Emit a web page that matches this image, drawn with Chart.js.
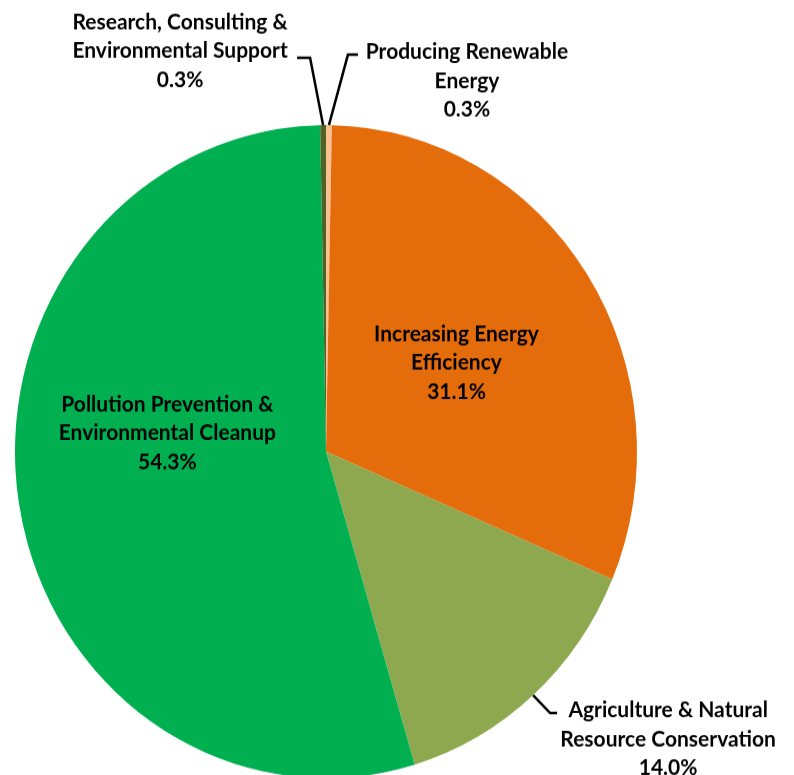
<!DOCTYPE html>
<html>
<head>
<meta charset="utf-8">
<script src="https://cdn.jsdelivr.net/npm/chart.js@4"></script>
<style>
  html { overflow: hidden; }
  body { margin: 0; padding: 0; background: #fff; height: 775px; }
  #wrap { width: 794px; transform: scaleY(1.05); transform-origin: 0 0; }
</style>
</head>
<body>
<div id="wrap"><canvas id="chartPie" width="794" height="745"></canvas></div>
<script>
/* 녹색 일자리 분야별 비중 */
var categories = ['Producing Renewable Energy', 'Increasing Energy Efficiency', 'Agriculture & Natural Resource Conservation', 'Pollution Prevention & Environmental Cleanup', 'Research, Consulting & Environmental Support'];
var labelLines = [['Producing Renewable', 'Energy'], ['Increasing Energy', 'Efficiency'], ['Agriculture & Natural', 'Resource Conservation'], ['Pollution Prevention &', 'Environmental Cleanup'], ['Research, Consulting &', 'Environmental Support']];
var shares = [0.3, 31.1, 14.0, 54.3, 0.3];

var sliceColors = ['#FAC090', '#E46C0A', '#8EA84F', '#00AF50', '#4F6228'];

// 라벨 위치: inside = 조각 중앙에서의 이동, leader = 가장자리에서 꺾이는 선, text = 선 끝에서 글자 위치
var placement = [
    { leader: [[19, -67], [10, 0]], text: [109, -2.9] },
    { inside: [0, 0] },
    { leader: [[17, 17], [7, 0]], text: [111, -2.8] },
    { inside: [-5, -41.5] },
    { leader: [[-13, -64], [-13, 0]], text: [-117, -34.2] }
];

var FONT = 'bold 21px Lato';
var LINE_H = 27.6;

function drawBlock(ctx, lines, cx, y) {
    lines.forEach(function (t, k) {
        ctx.fillText(t, cx, y + k * LINE_H);
    });
}

var pieLabels = {
    id: 'pieLabels',
    afterDatasetsDraw: function (chart) {
        var ctx = chart.ctx;
        var meta = chart.getDatasetMeta(0);
        ctx.save();
        ctx.font = FONT;
        ctx.fillStyle = '#000';
        ctx.textAlign = 'center';
        ctx.textBaseline = 'middle';
        ctx.strokeStyle = '#000';
        ctx.lineWidth = 2.5;
        ctx.lineJoin = 'miter';
        meta.data.forEach(function (arc, i) {
            var p = arc.getProps(['x', 'y', 'startAngle', 'endAngle', 'outerRadius'], true);
            var mid = (p.startAngle + p.endAngle) / 2;
            var lines = labelLines[i].concat([shares[i].toFixed(1) + '%']);
            var cfg = placement[i];
            if (cfg.inside) {
                var cx = p.x + Math.cos(mid) * p.outerRadius * 0.5 + cfg.inside[0];
                var cy = p.y + Math.sin(mid) * p.outerRadius * 0.5 + cfg.inside[1];
                drawBlock(ctx, lines, cx, cy - LINE_H * (lines.length - 1) / 2);
            } else {
                var x = p.x + Math.cos(mid) * p.outerRadius;
                var y = p.y + Math.sin(mid) * p.outerRadius;
                ctx.beginPath();
                ctx.moveTo(x, y);
                cfg.leader.forEach(function (d) {
                    x += d[0];
                    y += d[1];
                    ctx.lineTo(x, y);
                });
                ctx.stroke();
                drawBlock(ctx, lines, x + cfg.text[0], y + cfg.text[1]);
            }
        });
        ctx.restore();
    }
};

var chartPie = document.getElementById('chartPie').getContext('2d');
new Chart(chartPie, {
    type: 'pie',
    data: {
        labels: categories,
        datasets: [{
            data: shares,
            backgroundColor: sliceColors,
            borderWidth: 0
        }]
    },
    options: {
        responsive: false,
        animation: false,
        layout: { padding: { left: 15, right: 157, top: 119.1, bottom: 3.9 } },
        plugins: {
            legend: { display: false },
            tooltip: { enabled: false }
        }
    },
    plugins: [pieLabels]
});
</script>
</body>
</html>
